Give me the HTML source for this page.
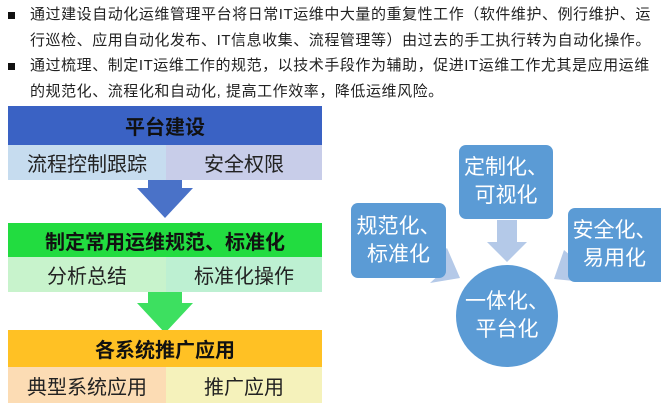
<!DOCTYPE html>
<html><head><meta charset="utf-8"><style>
body{margin:0;width:661px;height:403px;overflow:hidden;background:#fff;position:relative;font-family:"Liberation Sans","Noto Sans CJK SC",sans-serif;}
.t{position:absolute;left:30px;font-size:15px;color:#222;white-space:nowrap;line-height:20px;letter-spacing:0.55px}
.b{position:absolute;left:8px;width:7px;height:7px;background:#111}
.a{position:absolute;display:flex;align-items:center;justify-content:center;white-space:nowrap}
.hd{font-weight:bold;font-size:20px;color:#111}
.sb{font-size:20px;color:#222}
.sq{position:absolute;background:#5b9bd5;border-radius:7px;color:#fff;font-size:21px;line-height:28px;display:flex;align-items:center;justify-content:center;text-align:center}
</style></head><body>
<div class="b" style="top:12px"></div>
<div class="t" style="top:5px">通过建设自动化运维管理平台将日常IT运维中大量的重复性工作（软件维护、例行维护、运</div>
<div class="t" style="top:31px">行巡检、应用自动化发布、IT信息收集、流程管理等）由过去的手工执行转为自动化操作。</div>
<div class="b" style="top:63px"></div>
<div class="t" style="top:56px">通过梳理、制定IT运维工作的规范，以技术手段作为辅助，促进IT运维工作尤其是应用运维</div>
<div class="t" style="top:82px">的规范化、流程化和自动化, 提高工作效率，降低运维风险。</div>

<svg width="661" height="403" style="position:absolute;left:0;top:0">
<polygon points="148,180 182,180 182,188 193,188 165,218 137,188 148,188" fill="#4a72c8"/>
<polygon points="148,292 182,292 182,303 193,303 165,333 137,303 148,303" fill="#3de060"/>
<polygon points="497,220 517,220 517,242 527,242 507,262 487,242 497,242" fill="#b4c9e8"/>
<polygon points="430,262 447,248 460,278 430,283 442,272 425,270" fill="#b4c9e8"/>
<polygon points="578,262 564,250 554,279 584,282 572,272 588,270" fill="#b4c9e8"/>
<circle cx="507" cy="316" r="51" fill="#5b9bd5"/>
</svg>

<div class="a hd" style="left:8px;top:106px;width:314px;height:39px;background:#3a62c4">平台建设</div>
<div class="a sb" style="left:8px;top:145px;width:158px;height:35px;background:#c6dcef">流程控制跟踪</div>
<div class="a sb" style="left:166px;top:145px;width:156px;height:35px;background:#c8cde9">安全权限</div>

<div class="a hd" style="left:8px;top:223px;width:314px;height:34px;background:#22dc40">制定常用运维规范、标准化</div>
<div class="a sb" style="left:8px;top:257px;width:158px;height:35px;background:#c8f3cc">分析总结</div>
<div class="a sb" style="left:166px;top:257px;width:156px;height:35px;background:#bdf0d2">标准化操作</div>

<div class="a hd" style="left:8px;top:330px;width:314px;height:37px;background:#ffc124">各系统推广应用</div>
<div class="a sb" style="left:8px;top:367px;width:158px;height:36px;background:#fcdcb4">典型系统应用</div>
<div class="a sb" style="left:166px;top:367px;width:156px;height:36px;background:#f5f2bb">推广应用</div>

<div class="sq" style="left:459px;top:145px;width:94px;height:74px">定制化、<br>可视化</div>
<div class="sq" style="left:351px;top:203px;width:95px;height:75px">规范化、<br>标准化</div>
<div class="sq" style="left:568px;top:208px;width:100px;height:74px;padding-right:7px;box-sizing:border-box">安全化、<br>易用化</div>
<div class="sq" style="left:457px;top:266px;width:100px;height:100px;background:transparent">一体化、<br>平台化</div>
</body></html>
